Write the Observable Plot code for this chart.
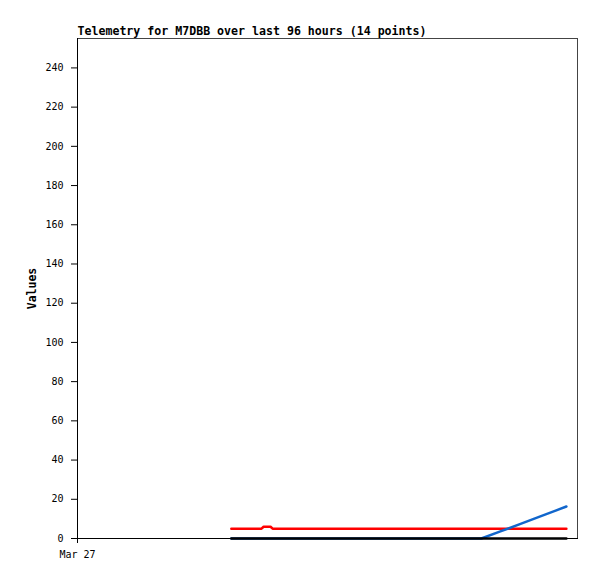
<!DOCTYPE html>
<html>
<head>
<meta charset="utf-8">
<script src="https://cdn.jsdelivr.net/npm/d3@7"></script>
<script src="https://cdn.jsdelivr.net/npm/@observablehq/plot@0.6"></script>
<style>
  html, body { margin: 0; padding: 0; background: #fff; }
  #chart { position: absolute; left: 0; top: 0; }
</style>
</head>
<body>
<div id="chart"></div>
<script>
const title = "Telemetry for M7DBB over last 96 hours (14 points)";
const yLabel = "Values";
const times = ["2024-03-27T07:23", "2024-03-27T08:50", "2024-03-27T08:56", "2024-03-27T09:16", "2024-03-27T09:22",
  "2024-03-27T11:40", "2024-03-27T14:04", "2024-03-27T16:28", "2024-03-27T19:23", "2024-03-27T20:18",
  "2024-03-27T21:16", "2024-03-27T22:13", "2024-03-27T22:57", "2024-03-27T23:28"];
const redValues   = [5, 5, 6, 6, 5, 5, 5, 5, 5, 5, 5, 5, 5, 5];
const blueValues  = [0, 0, 0, 0, 0, 0, 0, 0, 0, 3.6, 7.5, 11.3, 14.2, 16.3];
const blackValues = [0, 0, 0, 0, 0, 0, 0, 0, 0, 0, 0, 0, 0, 0];
const yTicks = [0, 20, 40, 60, 80, 100, 120, 140, 160, 180, 200, 220, 240];
const xTickLabels = ["2024-03-27T00:00"];
const xDomain = ["2024-03-27T00:00", "2024-03-28T00:00"];

const parse = d3.utcParse("%Y-%m-%dT%H:%M");
const mk = vals => times.map((t, i) => ({t: parse(t), v: vals[i]}));

const font = "'DejaVu Sans Mono', 'Liberation Mono', monospace";

const plot = Plot.plot({
  width: 597,
  height: 579,
  marginLeft: 77,
  marginRight: 20,
  marginTop: 38,
  marginBottom: 41,
  style: {fontFamily: font, fontSize: "10px", color: "#000", background: "#fff"},
  x: {type: "utc", domain: xDomain.map(parse)},
  y: {domain: [0, 255]},
  marks: [
    Plot.axisY({ticks: yTicks, tickSize: 6, tickPadding: 8, label: yLabel, labelAnchor: "center", labelArrow: "none", labelOffset: 50, stroke: "#000", fontSize: 10}),
    Plot.axisX({ticks: xTickLabels.map(parse), tickFormat: d3.utcFormat("%b %d"), tickSize: 5, tickPadding: 7, label: null, stroke: "#000", fontSize: 10}),
    Plot.frame({anchor: "top", stroke: "#444"}),
    Plot.frame({anchor: "right", stroke: "#444"}),
    Plot.line(mk(redValues), {x: "t", y: "v", stroke: "#ff0000", strokeWidth: 2.5}),
    Plot.line(mk(blueValues), {x: "t", y: "v", stroke: "#1166cc", strokeWidth: 2.5}),
    Plot.line(mk(blackValues), {x: "t", y: "v", stroke: "#000", strokeWidth: 2.5}),
    Plot.frame({anchor: "left", stroke: "#000"}),
    Plot.frame({anchor: "bottom", stroke: "#000"}),
    Plot.text([title], {frameAnchor: "top-left", dy: -12, textAnchor: "start", fontWeight: "bold", fontSize: 11.6, fill: "#000"})
  ]
});
// make the y label bold and slightly larger
plot.querySelectorAll("[aria-label='y-axis label'] text").forEach(t => {
  t.setAttribute("font-weight", "bold");
  t.setAttribute("font-size", "11.5");
});
document.getElementById("chart").appendChild(plot);
</script>
</body>
</html>
